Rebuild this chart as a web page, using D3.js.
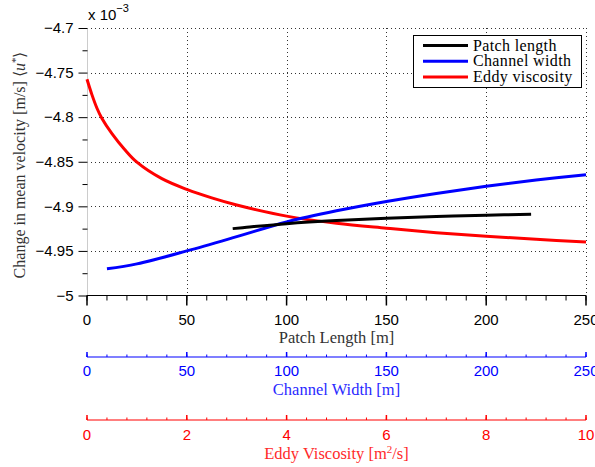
<!DOCTYPE html>
<html lang="en">
	<head>
		<meta charset="utf-8">
		<title>Change in mean velocity</title>
		<script type="text/javascript" src="https://cdn.jsdelivr.net/npm/d3@7"></script>
		<style type="text/css">
			body { margin: 0; background: #fff; }
			.tick text { font-family: "Liberation Sans", Arial, sans-serif; font-size: 15px; }
			.serif { font-family: "Liberation Serif", "Times New Roman", serif; }
		</style>
	</head>
	<body>
		<script type="text/javascript">

			//Size and plot box
			var w = 595;
			var h = 467;
			var pLeft = 87, pRight = 586, pTop = 28, pBottom = 295.5;

			//Patch length (black)
			var patchX = [73, 80, 100, 125, 150, 175, 200, 222.5];
			var patchY = [-4.925, -4.9235, -4.9195, -4.916, -4.9135, -4.9115, -4.910, -4.909];

			//Channel width (blue)
			var widthX = [10, 25, 50, 75, 100, 125, 150, 175, 200, 225, 250];
			var widthY = [-4.970, -4.9645, -4.950, -4.934, -4.9175, -4.905, -4.8945, -4.8855, -4.8775, -4.8705, -4.8645];

			//Eddy viscosity (red)
			var eddyX = [0, 0.1, 0.2, 0.3, 0.5, 0.75, 1, 1.5, 2, 2.5, 3, 4, 5, 6, 7, 8, 9, 10];
			var eddyY = [-4.7575, -4.775, -4.790, -4.8015, -4.8185, -4.836, -4.8505, -4.869, -4.881, -4.8905,
						 -4.8985, -4.911, -4.919, -4.9245, -4.9295, -4.9335, -4.937, -4.940];

			//Tick values
			var yTicks = [-5, -4.95, -4.9, -4.85, -4.8, -4.75, -4.7];
			var yMinor = [-4.975, -4.925, -4.875, -4.825, -4.775, -4.725];
			var lenTicks = [0, 50, 100, 150, 200, 250];
			var eddyTicks = [0, 2, 4, 6, 8, 10];

			var xScale = d3.scaleLinear().domain([0, 250]).range([pLeft, pRight]);
			var eScale = d3.scaleLinear().domain([0, 10]).range([pLeft, pRight]);
			var yScale = d3.scaleLinear().domain([-5, -4.7]).range([pBottom, pTop]);

			var fmt = d3.format("");

			var svg = d3.select("body")
						.append("svg")
						.attr("width", w)
						.attr("height", h);

			//Dotted grid
			var grid = svg.append("g")
						.attr("stroke", "#333")
						.attr("stroke-width", 1)
						.attr("stroke-dasharray", "1,3");

			grid.selectAll("line.gx")
				.data(lenTicks.slice(1))
				.enter()
				.append("line")
				.attr("x1", d => Math.round(xScale(d)) + 0.5)
				.attr("x2", d => Math.round(xScale(d)) + 0.5)
				.attr("y1", pTop)
				.attr("y2", pBottom);

			grid.selectAll("line.gy")
				.data(yTicks.slice(1))
				.enter()
				.append("line")
				.attr("x1", pLeft)
				.attr("x2", pRight)
				.attr("y1", d => Math.round(yScale(d)) + 0.5)
				.attr("y2", d => Math.round(yScale(d)) + 0.5);

			//Left axis line (light)
			svg.append("line")
				.attr("x1", pLeft + 0.5).attr("x2", pLeft + 0.5)
				.attr("y1", pTop).attr("y2", pBottom)
				.attr("stroke", "#ccc");

			//Y axis
			var yAxis = svg.append("g")
				.attr("transform", "translate(" + (pLeft + 0.5) + ",0)")
				.call(d3.axisLeft(yScale).tickValues(yTicks).tickFormat(fmt).tickSize(9).tickPadding(5));
			yAxis.select(".domain").remove();

			svg.append("g")
				.attr("transform", "translate(" + (pLeft + 0.5) + ",0)")
				.call(d3.axisLeft(yScale).tickValues(yMinor).tickFormat("").tickSize(5))
				.select(".domain").remove();

			//Helper for the three bottom axes
			function bottomAxis(scale, major, step, y, color, tickLen, inward, labelBase, title, titleColor, titleBase) {
				var g = svg.append("g").attr("transform", "translate(0," + y + ")");
				var minor = d3.range(scale.domain()[0], scale.domain()[1] + step / 2, step);
				var sign = inward ? -1 : 1;

				g.append("line")
					.attr("x1", scale.range()[0]).attr("x2", scale.range()[1])
					.attr("stroke", color).attr("stroke-width", 1.2);

				g.selectAll("line.mn")
					.data(minor)
					.enter()
					.append("line")
					.attr("x1", d => scale(d)).attr("x2", d => scale(d))
					.attr("y1", 0).attr("y2", sign * tickLen / 2)
					.attr("stroke", color);

				g.selectAll("line.mj")
					.data(major)
					.enter()
					.append("line")
					.attr("x1", d => scale(d)).attr("x2", d => scale(d))
					.attr("y1", 0).attr("y2", sign * tickLen)
					.attr("stroke", color).attr("stroke-width", 1.5);

				g.selectAll("text.lb")
					.data(major)
					.enter()
					.append("text")
					.attr("x", d => scale(d))
					.attr("y", labelBase - y)
					.attr("text-anchor", "middle")
					.attr("fill", color)
					.style("font-family", "'Liberation Sans', Arial, sans-serif")
					.style("font-size", "15px")
					.text(fmt);

				svg.append("text")
					.attr("class", "serif")
					.attr("x", (scale.range()[0] + scale.range()[1]) / 2)
					.attr("y", titleBase)
					.attr("text-anchor", "middle")
					.style("font-size", "16.5px")
					.attr("fill", titleColor)
					.html(title);
			}

			bottomAxis(xScale, lenTicks, 10, pBottom, "#000", 10, false, 325, "Patch Length [m]", "#333", 343);
			bottomAxis(xScale, lenTicks, 10, 357, "#0000ff", 5, true, 376, "Channel Width [m]", "#2a2aff", 395);
			bottomAxis(eScale, eddyTicks, 0.4, 420, "#ff0000", 5, true, 440,
				"Eddy Viscosity [m<tspan dy='-6' font-size='11px'>2</tspan><tspan dy='6'>/s]</tspan>", "#ff2a2a", 459);

			//Exponent
			svg.append("text")
				.attr("x", 88).attr("y", 20)
				.style("font-family", "'Liberation Sans', Arial, sans-serif")
				.style("font-size", "15px")
				.html("x 10<tspan dy='-8' font-size='11px'>\u22123</tspan>");

			//Y label
			svg.append("text")
				.attr("class", "serif")
				.attr("transform", "translate(25,165) rotate(-90)")
				.attr("text-anchor", "middle")
				.attr("fill", "#333")
				.style("font-size", "16px")
				.html("Change in mean velocity [m/s] \u27E8<tspan font-style='italic'>u</tspan><tspan dy='-6' font-size='11px'>*</tspan><tspan dy='6'>\u27E9</tspan>");

			//Curves
			var line = d3.line()
				.x(d => d[0])
				.y(d => yScale(d[1]))
				.curve(d3.curveCatmullRom.alpha(0.5));

			var series = [
				{ name: "Patch length", color: "#000", pts: patchX.map((x, i) => [xScale(x), patchY[i]]) },
				{ name: "Channel width", color: "#0000ff", pts: widthX.map((x, i) => [xScale(x), widthY[i]]) },
				{ name: "Eddy viscosity", color: "#ff0000", pts: eddyX.map((x, i) => [eScale(x), eddyY[i]]) }
			];

			svg.selectAll("path.curve")
				.data(series.slice().reverse())
				.enter()
				.append("path")
				.attr("fill", "none")
				.attr("stroke", d => d.color)
				.attr("stroke-width", 3)
				.attr("d", d => line(d.pts));

			//Legend
			var lg = svg.append("g");
			lg.append("rect")
				.attr("x", 413.5).attr("y", 35.5)
				.attr("width", 168).attr("height", 52)
				.attr("fill", "#fff").attr("stroke", "#000");

			var rows = lg.selectAll("g.row")
				.data(series)
				.enter()
				.append("g")
				.attr("transform", (d, i) => "translate(0," + (45.5 + i * 15.8) + ")");

			rows.append("line")
				.attr("x1", 423).attr("x2", 468)
				.attr("stroke", d => d.color)
				.attr("stroke-width", 3);

			rows.append("text")
				.attr("class", "serif")
				.attr("x", 473).attr("y", 5)
				.style("font-size", "16px")
				.style("letter-spacing", "0.35px")
				.text(d => d.name);

		</script>
	</body>
</html>
